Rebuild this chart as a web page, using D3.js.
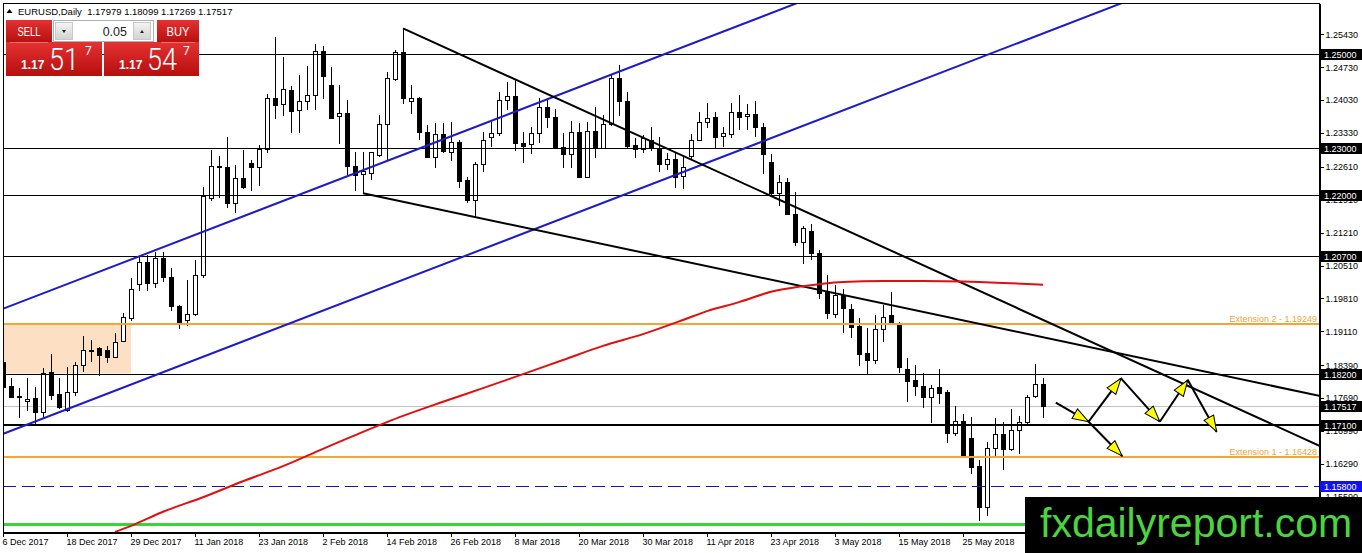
<!DOCTYPE html>
<html>
<head>
<meta charset="utf-8">
<script src="https://cdn.jsdelivr.net/npm/d3@7/dist/d3.min.js"></script>
<style>
  html, body { margin: 0; padding: 0; background: #fff; }
  svg { display: block; font-family: "Liberation Sans", Arial, sans-serif; }
</style>
</head>
<body>
<svg id="chart" width="1362" height="553"></svg>
<script>
'use strict';

// EURUSD daily bars, 6 Dec 2017 .. 8 Jun 2018 (bar index 0 .. 130)
const opens = [
  1.1845, 1.1794, 1.1772, 1.1762, 1.1768, 1.1739, 1.1823, 1.1777, 1.1743, 1.1780,
  1.1838, 1.1871, 1.1874, 1.1870, 1.1855, 1.1889, 1.1938, 1.2011, 1.2057, 1.2012,
  1.2065, 1.2025, 1.1964, 1.1934, 1.1947, 1.2030, 1.2193, 1.2262, 1.2260, 1.2184,
  1.2236, 1.2269, 1.2259, 1.2297, 1.2406, 1.2393, 1.2423, 1.2381, 1.2400, 1.2412,
  1.2507, 1.2433, 1.2369, 1.2374, 1.2262, 1.2245, 1.2246, 1.2285, 1.2350, 1.2447,
  1.2504, 1.2401, 1.2406, 1.2335, 1.2280, 1.2329, 1.2291, 1.2313, 1.2232, 1.2189,
  1.2266, 1.2324, 1.2331, 1.2402, 1.2411, 1.2311, 1.2309, 1.2331, 1.2387, 1.2365,
  1.2303, 1.2287, 1.2333, 1.2239, 1.2337, 1.2299, 1.2351, 1.2448, 1.2401, 1.2306,
  1.2297, 1.2318, 1.2301, 1.2267, 1.2276, 1.2240, 1.2283, 1.2318, 1.2355, 1.2365,
  1.2326, 1.2330, 1.2377, 1.2368, 1.2372, 1.2344, 1.2271, 1.2205, 1.2228, 1.2160,
  1.2101, 1.2124, 1.2077, 1.1994, 1.1947, 1.1987, 1.1957, 1.1921, 1.1863, 1.1850,
  1.1914, 1.1945, 1.1923, 1.1830, 1.1806, 1.1794, 1.1771, 1.1791, 1.1780, 1.1694,
  1.1719, 1.1684, 1.1623, 1.1537, 1.1661, 1.1691, 1.1659, 1.1699, 1.1716, 1.1772,
  1.17979
];
const highs = [
  1.1850, 1.1811, 1.1789, 1.1811, 1.1792, 1.1831, 1.1861, 1.1811, 1.1835, 1.1845,
  1.1900, 1.1891, 1.1876, 1.1879, 1.1907, 1.1948, 1.2023, 1.2069, 1.2072, 1.2079,
  1.2079, 1.2044, 1.1966, 1.2019, 1.2062, 1.2218, 1.2296, 1.2283, 1.2324, 1.2264,
  1.2296, 1.2274, 1.2306, 1.2415, 1.2537, 1.2494, 1.2432, 1.2455, 1.2474, 1.2521,
  1.2517, 1.2473, 1.2434, 1.2402, 1.2292, 1.2292, 1.2292, 1.2370, 1.2462, 1.2509,
  1.2555, 1.2434, 1.2409, 1.2349, 1.2353, 1.2353, 1.2356, 1.2317, 1.2239, 1.2271,
  1.2335, 1.2356, 1.2420, 1.2441, 1.2445, 1.2335, 1.2345, 1.2406, 1.2406, 1.2382,
  1.2331, 1.2358, 1.2354, 1.2356, 1.2388, 1.2370, 1.2455, 1.2477, 1.2420, 1.2321,
  1.2328, 1.2344, 1.2323, 1.2289, 1.2289, 1.2281, 1.2330, 1.2377, 1.2395, 1.2377,
  1.2345, 1.2395, 1.2413, 1.2394, 1.2399, 1.2353, 1.2287, 1.2243, 1.2236, 1.2207,
  1.2134, 1.2138, 1.2084, 1.2030, 1.2009, 1.2001, 1.1968, 1.1938, 1.1916, 1.1945,
  1.1966, 1.1994, 1.1930, 1.1853, 1.1838, 1.1821, 1.1796, 1.1829, 1.1785, 1.1751,
  1.1734, 1.1727, 1.1636, 1.1675, 1.1725, 1.1718, 1.1744, 1.1730, 1.1774, 1.1840,
  1.18099
];
const lows = [
  1.1781, 1.1770, 1.1728, 1.1743, 1.1714, 1.1728, 1.1767, 1.1746, 1.1741, 1.1774,
  1.1826, 1.1847, 1.1817, 1.1845, 1.1855, 1.1889, 1.1934, 1.1998, 1.1998, 1.2005,
  1.2018, 1.1955, 1.1916, 1.1923, 1.1945, 1.2026, 1.2189, 1.2196, 1.2175, 1.2164,
  1.2214, 1.2211, 1.2221, 1.2292, 1.2363, 1.2370, 1.2335, 1.2333, 1.2384, 1.2384,
  1.2406, 1.2363, 1.2311, 1.2243, 1.2211, 1.2204, 1.2233, 1.2282, 1.2274, 1.2445,
  1.2395, 1.2374, 1.2319, 1.2281, 1.2260, 1.2292, 1.2274, 1.2218, 1.2186, 1.2154,
  1.2250, 1.2304, 1.2328, 1.2384, 1.2296, 1.2271, 1.2289, 1.2313, 1.2345, 1.2299,
  1.2259, 1.2259, 1.2238, 1.2239, 1.2281, 1.2299, 1.2349, 1.2370, 1.2303, 1.2281,
  1.2292, 1.2296, 1.2252, 1.2255, 1.2216, 1.2214, 1.2278, 1.2316, 1.2345, 1.2299,
  1.2304, 1.2323, 1.2340, 1.2340, 1.2326, 1.2247, 1.2198, 1.2179, 1.2159, 1.2094,
  1.2055, 1.2063, 1.1980, 1.1938, 1.1940, 1.1909, 1.1897, 1.1838, 1.1821, 1.1842,
  1.1890, 1.1927, 1.1824, 1.1762, 1.1774, 1.1750, 1.1716, 1.1757, 1.1675, 1.1689,
  1.1645, 1.1608, 1.1509, 1.1519, 1.1645, 1.1616, 1.1657, 1.1652, 1.1715, 1.1771,
  1.17269
];
const closes = [
  1.1792, 1.1770, 1.1770, 1.1767, 1.1739, 1.1822, 1.1774, 1.1748, 1.1780, 1.1838,
  1.1870, 1.1869, 1.1860, 1.1856, 1.1887, 1.1940, 1.1999, 1.2057, 1.2012, 1.2065,
  1.2026, 1.1964, 1.1930, 1.1947, 1.2030, 1.2198, 1.2262, 1.2259, 1.2184, 1.2236,
  1.2218, 1.2259, 1.2298, 1.2406, 1.2391, 1.2425, 1.2379, 1.2400, 1.2412, 1.2507,
  1.2453, 1.2363, 1.2374, 1.2262, 1.2243, 1.2250, 1.2291, 1.2350, 1.2448, 1.2504,
  1.2406, 1.2406, 1.2335, 1.2281, 1.2329, 1.2294, 1.2313, 1.2230, 1.2189, 1.2266,
  1.2317, 1.2331, 1.2402, 1.2411, 1.2310, 1.2305, 1.2331, 1.2387, 1.2365, 1.2299,
  1.2287, 1.2333, 1.2239, 1.2336, 1.2299, 1.2351, 1.2448, 1.2399, 1.2304, 1.2297,
  1.2322, 1.2299, 1.2267, 1.2276, 1.2239, 1.2260, 1.2318, 1.2356, 1.2364, 1.2324,
  1.2331, 1.2377, 1.2367, 1.2372, 1.2344, 1.2287, 1.2205, 1.2228, 1.2160, 1.2101,
  1.2129, 1.2076, 1.1991, 1.1950, 1.1987, 1.1959, 1.1920, 1.1862, 1.1850, 1.1914,
  1.1940, 1.1928, 1.1835, 1.1805, 1.1794, 1.1770, 1.1789, 1.1778, 1.1694, 1.1719,
  1.1647, 1.1622, 1.1537, 1.1661, 1.1691, 1.1659, 1.1699, 1.1716, 1.1771, 1.1798,
  1.17517
];

// 200 day moving average at some bars
const maIndex  = [14, 16, 20, 25, 30, 35, 40, 45, 50, 55, 60, 65, 70, 75, 80, 85, 88, 92, 96, 100, 105, 110, 115, 120, 125, 130];
const maValues = [1.1483, 1.1496, 1.1526, 1.1557, 1.1591, 1.1623, 1.1660, 1.1696, 1.1730, 1.1760, 1.1789, 1.1819, 1.1849,
                  1.1879, 1.1904, 1.1934, 1.1953, 1.1972, 1.1994, 1.2006, 1.2015, 1.2017, 1.2017, 1.2016, 1.2013, 1.2009];

// time axis: one label every 8 bars
const dateLabels = ['6 Dec 2017', '18 Dec 2017', '29 Dec 2017', '11 Jan 2018', '23 Jan 2018', '2 Feb 2018',
  '14 Feb 2018', '26 Feb 2018', '8 Mar 2018', '20 Mar 2018', '30 Mar 2018', '11 Apr 2018', '23 Apr 2018',
  '3 May 2018', '15 May 2018', '25 May 2018'];
const priceTicks = [1.25430, 1.24730, 1.24030, 1.23330, 1.22610, 1.21910, 1.21210, 1.20510,
  1.19810, 1.19110, 1.18390, 1.17690, 1.16990, 1.16290, 1.15590];

// horizontal levels
const blackLevels = [1.25, 1.23, 1.22, 1.207, 1.182];
const supportLevel = 1.171;
const bidPrice = 1.17517;
const extensionLevels = [1.19249, 1.16428];
const extensionNames = ['Extension 2', 'Extension 1'];
const dashedLevel = 1.158;
const greenLevel = 1.15;

// rising channel (two anchor bars) and the two falling trend lines
const channelIdx = [0, 100];
const channelUpper = [1.19579, 1.26132];
const channelLower = [1.16919, 1.23472];
const trendAIdx = [50, 152];
const trendA = [1.25547, 1.17638];
const trendBIdx = [45, 152];
const trendB = [1.22036, 1.18179];

// shaded zone
const zoneIdx = [-4, 16];
const zonePrices = [1.19249, 1.18200];

// projected path arrows, [bar index, price]
const pathPoints = [[131.6, 1.17581], [135.7, 1.17177], [139.75, 1.18100], [144.6, 1.17177],
  [148.1, 1.18064], [151.7, 1.16964], [139.9, 1.16447]];
const arrowLinks = [[0, 1], [1, 2], [2, 3], [3, 4], [4, 5], [1, 6]];

const headerText = 'EURUSD,Daily  1.17979 1.18099 1.17269 1.17517';


const svg = d3.select('#chart');
const W = 1362, H = 553;
const plotLeft = 3, plotRight = 1319, plotTop = 3, plotBottom = 532;

const x = d3.scaleLinear().domain([0, 164.5]).range([plotLeft, plotRight]);
const y = d3.scaleLinear().domain([1.26085, 1.14830]).range([plotTop, plotBottom]);
const px = i => Math.round(x(i));
const py = p => Math.round(y(p));

svg.append('rect').attr('width', W).attr('height', H).attr('fill', '#fff');

const defs = svg.append('defs');
defs.append('clipPath').attr('id', 'plotClip')
  .append('rect')
  .attr('x', plotLeft).attr('y', plotTop)
  .attr('width', plotRight - plotLeft).attr('height', plotBottom - plotTop);

defs.append('marker')
  .attr('id', 'head')
  .attr('markerUnits', 'userSpaceOnUse')
  .attr('viewBox', '0 0 18 14')
  .attr('refX', 17).attr('refY', 7)
  .attr('markerWidth', 18).attr('markerHeight', 14)
  .attr('orient', 'auto')
  .append('path')
  .attr('d', 'M1,1.5 L17,7 L1,12.5 Z')
  .attr('fill', '#ffff00')
  .attr('stroke', '#000')
  .attr('stroke-width', 1);

const redGrad = defs.append('linearGradient').attr('id', 'redGrad')
  .attr('x1', 0).attr('y1', 0).attr('x2', 0).attr('y2', 1);
redGrad.append('stop').attr('offset', '0%').attr('stop-color', '#e33232');
redGrad.append('stop').attr('offset', '100%').attr('stop-color', '#b70e0e');

const btnGrad = defs.append('linearGradient').attr('id', 'btnGrad')
  .attr('x1', 0).attr('y1', 0).attr('x2', 0).attr('y2', 1);
btnGrad.append('stop').attr('offset', '0%').attr('stop-color', '#f4f4f4');
btnGrad.append('stop').attr('offset', '100%').attr('stop-color', '#d2d2d2');

const plot = svg.append('g').attr('clip-path', 'url(#plotClip)');

// zone behind everything
plot.append('rect')
  .attr('x', x(zoneIdx[0])).attr('y', y(zonePrices[0]))
  .attr('width', x(zoneIdx[1]) - x(zoneIdx[0]))
  .attr('height', y(zonePrices[1]) - y(zonePrices[0]))
  .attr('fill', '#fde0c4');

function hline(g, p, color, w, dash) {
  const yy = w % 2 ? py(p) + 0.5 : py(p);
  const l = g.append('line')
    .attr('x1', plotLeft).attr('x2', plotRight)
    .attr('y1', yy).attr('y2', yy)
    .attr('stroke', color).attr('stroke-width', w)
    .attr('shape-rendering', 'crispEdges');
  if (dash) l.attr('stroke-dasharray', dash);
  return l;
}

// bid line sits under the bars
hline(plot, bidPrice, '#c0c0c0', 1);

// candles
const bars = d3.range(opens.length).map(i => ({
  i: i, o: opens[i], h: highs[i], l: lows[i], c: closes[i]
}));

const candle = plot.append('g').selectAll('g.bar').data(bars).enter()
  .append('g').attr('class', 'bar');

candle.append('line')
  .attr('x1', d => px(d.i) + 0.5).attr('x2', d => px(d.i) + 0.5)
  .attr('y1', d => py(d.h)).attr('y2', d => py(d.l) + 1)
  .attr('stroke', '#000').attr('shape-rendering', 'crispEdges');

candle.append('rect')
  .attr('x', d => px(d.i) - 1.5)
  .attr('y', d => py(Math.max(d.o, d.c)) + 0.5)
  .attr('width', 4)
  .attr('height', d => Math.max(1, py(Math.min(d.o, d.c)) - py(Math.max(d.o, d.c))))
  .attr('fill', d => d.c >= d.o ? '#fff' : '#000')
  .attr('stroke', '#000').attr('stroke-width', 1)
  .attr('shape-rendering', 'crispEdges');

// horizontal levels
blackLevels.forEach(p => hline(plot, p, '#000', 1));
hline(plot, supportLevel, '#000', 2);
extensionLevels.forEach(p => hline(plot, p, '#f3a634', 2));
hline(plot, dashedLevel, '#1414b4', 1, '13,6');
hline(plot, greenLevel, '#3ad43a', 3);

function extLine(g, idx, prices, color, w) {
  // extend the two anchor points across the whole plot
  const slope = (prices[1] - prices[0]) / (idx[1] - idx[0]);
  const i0 = x.invert(plotLeft - 10), i1 = x.invert(plotRight + 10);
  g.append('line')
    .attr('x1', x(i0)).attr('y1', y(prices[0] + slope * (i0 - idx[0])))
    .attr('x2', x(i1)).attr('y2', y(prices[0] + slope * (i1 - idx[0])))
    .attr('stroke', color).attr('stroke-width', w);
}

function segLine(g, idx, prices, color, w) {
  // starts at the first anchor, runs on to the right edge
  const slope = (prices[1] - prices[0]) / (idx[1] - idx[0]);
  const i1 = x.invert(plotRight + 10);
  g.append('line')
    .attr('x1', x(idx[0])).attr('y1', y(prices[0]))
    .attr('x2', x(i1)).attr('y2', y(prices[0] + slope * (i1 - idx[0])))
    .attr('stroke', color).attr('stroke-width', w);
}

extLine(plot, channelIdx, channelUpper, '#1c1cc8', 2);
extLine(plot, channelIdx, channelLower, '#1c1cc8', 2);
segLine(plot, trendAIdx, trendA, '#000', 2);
segLine(plot, trendBIdx, trendB, '#000', 2);

// moving average
const maLine = d3.line()
  .x((d, k) => x(maIndex[k]))
  .y(d => y(d))
  .curve(d3.curveMonotoneX);
plot.append('path')
  .attr('d', maLine(maValues))
  .attr('fill', 'none')
  .attr('stroke', '#e01010')
  .attr('stroke-width', 2);

// projected path
plot.append('g').selectAll('line').data(arrowLinks).enter()
  .append('line')
  .attr('x1', d => x(pathPoints[d[0]][0])).attr('y1', d => y(pathPoints[d[0]][1]))
  .attr('x2', d => x(pathPoints[d[1]][0])).attr('y2', d => y(pathPoints[d[1]][1]))
  .attr('stroke', '#000').attr('stroke-width', 2)
  .attr('marker-end', 'url(#head)');

// extension captions
plot.selectAll('text.ext').data(extensionLevels).enter()
  .append('text').attr('class', 'ext')
  .attr('x', plotRight - 2)
  .attr('y', d => py(d) - 2)
  .attr('text-anchor', 'end')
  .attr('font-size', 9)
  .attr('fill', '#f0a43a')
  .text((d, k) => extensionNames[k] + ' - ' + d3.format('.5f')(d));

// frame
svg.append('rect')
  .attr('x', plotLeft + 0.5).attr('y', plotTop + 0.5)
  .attr('width', plotRight - plotLeft).attr('height', plotBottom - plotTop)
  .attr('fill', 'none').attr('stroke', '#000')
  .attr('shape-rendering', 'crispEdges');

// price axis
const yAxisScale = y.copy().range([plotTop, plotBottom]);
const yAxis = d3.axisRight(yAxisScale)
  .tickValues(priceTicks)
  .tickFormat(d3.format('.5f'))
  .tickSize(4).tickSizeOuter(0).tickPadding(2);
const yAxisG = svg.append('g')
  .attr('transform', `translate(${plotRight + 0.5},0.5)`)
  .call(yAxis);
yAxisG.attr('font-family', null).attr('font-size', 9);
yAxisG.selectAll('text').attr('fill', '#000');
yAxisG.selectAll('line, path').attr('shape-rendering', 'crispEdges');

// time axis
const dateIdx = dateLabels.map((s, k) => k * 8);
const xAxis = d3.axisBottom(x)
  .tickValues(dateIdx)
  .tickFormat((d, k) => dateLabels[k])
  .tickSize(4).tickSizeOuter(0).tickPadding(2);
const xAxisG = svg.append('g')
  .attr('transform', `translate(0.5,${plotBottom + 0.5})`)
  .call(xAxis);
xAxisG.attr('font-family', null).attr('font-size', 9);
xAxisG.selectAll('text').attr('text-anchor', 'start').attr('dx', -1).attr('fill', '#000');
xAxisG.selectAll('line, path').attr('shape-rendering', 'crispEdges');
xAxisG.selectAll('.tick').attr('transform', d => `translate(${px(d)},0)`);

// level labels on the price scale
const markers = blackLevels.concat([supportLevel, bidPrice]).map(p => ({ p: p, bg: '#000' }))
  .concat([{ p: dashedLevel, bg: '#1212f0' }]);
const mk = svg.append('g').selectAll('g').data(markers).enter().append('g');
mk.append('rect')
  .attr('x', plotRight + 1).attr('y', d => py(d.p) - 5)
  .attr('width', W - plotRight - 1).attr('height', 11)
  .attr('fill', d => d.bg);
mk.append('text')
  .attr('x', plotRight + 5).attr('y', d => py(d.p) + 4)
  .attr('font-size', 9).attr('fill', '#fff')
  .text(d => d3.format('.5f')(d.p));

// header
svg.append('path').attr('d', 'M6.5,13 L9.5,9 L12.5,13 Z').attr('fill', '#000');
svg.append('text')
  .attr('x', 18).attr('y', 14.5)
  .attr('font-size', 9.5).attr('fill', '#000')
  .attr('xml:space', 'preserve')
  .text(headerText);

// one-click trading panel
const panel = svg.append('g');
const bidSplit = d3.format('.5f')(bidPrice);
const askPrice = bidPrice + 0.0003;
const askSplit = d3.format('.5f')(askPrice);

function priceBox(x0, w, big, label, labelX, labelW) {
  panel.append('rect').attr('x', labelX).attr('y', 20).attr('width', labelW).attr('height', 23)
    .attr('fill', 'url(#redGrad)');
  panel.append('rect').attr('x', x0).attr('y', 42).attr('width', w).attr('height', 34)
    .attr('fill', 'url(#redGrad)');
  panel.append('line').attr('x1', labelX + 4).attr('x2', labelX + labelW - 4)
    .attr('y1', 42.5).attr('y2', 42.5).attr('stroke', '#f07070');
  panel.append('text').attr('x', labelX + labelW / 2).attr('y', 35.5)
    .attr('text-anchor', 'middle').attr('font-size', 12.5).attr('fill', '#fff')
    .attr('textLength', 23).attr('lengthAdjust', 'spacingAndGlyphs')
    .text(label);
  panel.append('text').attr('x', x0 + 15).attr('y', 69)
    .attr('font-size', 12).attr('font-weight', 'bold').attr('fill', '#fff')
    .text(big.slice(0, 4));
  panel.append('text').attr('x', x0 + 43).attr('y', 70)
    .attr('font-family', 'Roboto, "Liberation Sans", sans-serif').attr('font-weight', 300)
    .attr('font-size', 32).attr('fill', '#fff')
    .attr('textLength', 30).attr('lengthAdjust', 'spacingAndGlyphs')
    .text(big.slice(4, 6));
  panel.append('text').attr('x', x0 + 79).attr('y', 55)
    .attr('font-family', 'Roboto, "Liberation Sans", sans-serif')
    .attr('font-size', 12).attr('fill', '#fff')
    .text(big.slice(6, 7));
}
priceBox(6, 96, bidSplit, 'SELL', 6, 46);
priceBox(104, 95, askSplit, 'BUY', 157, 42);

// lot size control
panel.append('rect').attr('x', 53.5).attr('y', 20.5).attr('width', 100).attr('height', 21)
  .attr('fill', '#fff').attr('stroke', '#b0b0b0');
panel.append('rect').attr('x', 55.5).attr('y', 22.5).attr('width', 17).attr('height', 17)
  .attr('fill', 'url(#btnGrad)').attr('stroke', '#c8c8c8');
panel.append('rect').attr('x', 133.5).attr('y', 22.5).attr('width', 17).attr('height', 17)
  .attr('fill', 'url(#btnGrad)').attr('stroke', '#c8c8c8');
panel.append('path').attr('d', 'M62,30 L66,30 L64,33 Z').attr('fill', '#222');
panel.append('path').attr('d', 'M140,33 L144,33 L142,30 Z').attr('fill', '#222');
panel.append('text').attr('x', 127).attr('y', 35.5)
  .attr('text-anchor', 'end').attr('font-size', 12.5).attr('fill', '#222')
  .text('0.05');

// watermark
svg.append('rect').attr('x', 1025).attr('y', 497).attr('width', W - 1025).attr('height', H - 497)
  .attr('fill', '#000');
svg.append('text')
  .attr('x', 1040).attr('y', 537)
  .attr('font-size', 41).attr('fill', '#4ad43d')
  .text('fxdailyreport.com');
</script>
</body>
</html>
